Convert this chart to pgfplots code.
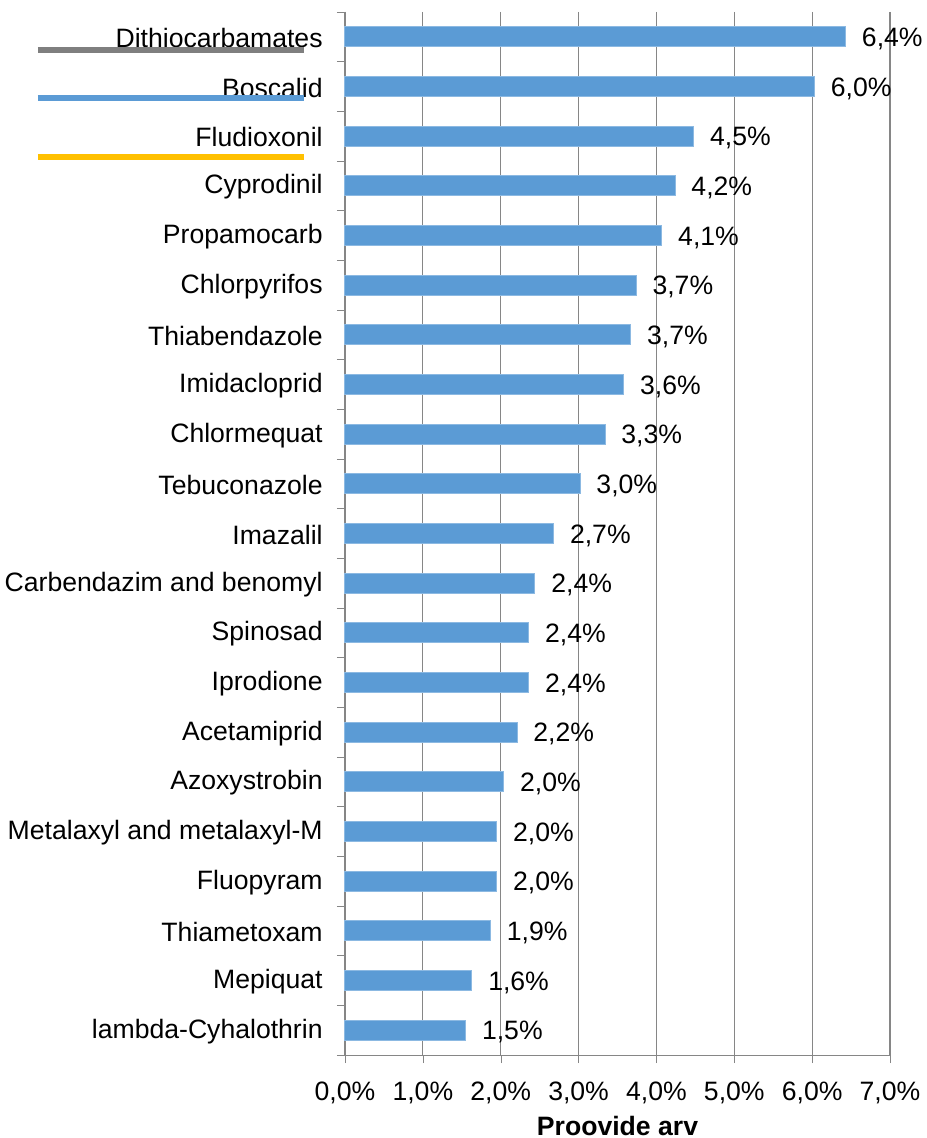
\documentclass[border=0pt]{standalone}
\usepackage{pgfplots}
\pgfplotsset{compat=1.18}
\usepackage{fontspec}
\setmainfont{Liberation Sans}
\definecolor{barblue}{HTML}{5B9BD5}
\definecolor{gridgray}{HTML}{868686}
\definecolor{lgray}{HTML}{7F7F7F}
\definecolor{lgold}{HTML}{FFC000}
\begin{document}
\fontsize{13.3}{16}\selectfont
\begin{tikzpicture}
\begin{axis}[
  scale only axis,
  width=272.5pt, height=521.5pt,
  at={(0,0)}, anchor=south west,
  xbar, bar width=10pt,
  xmin=0, xmax=7,
  ymin=-0.5, ymax=20.5,
  y dir=reverse,
  axis x line=bottom, axis y line=left,
  axis line style={-, gridgray},
  tick align=outside,
  major tick length=4pt,
  minor tick length=4pt,
  xtick={0,1,2,3,4,5,6,7},
  xticklabels={{0,0\%},{1,0\%},{2,0\%},{3,0\%},{4,0\%},{5,0\%},{6,0\%},{7,0\%}},
  x tick style={gridgray},
  xticklabel style={inner sep=0pt, yshift=-9.5pt, font=\fontsize{13.3}{16}\selectfont},
  xmajorgrids, grid style={gridgray, line width=0.6pt},
  ytick={0,...,20},
  minor ytick={-0.5,0.5,...,20.5},
  y tick style={gridgray},
  major y tick style={draw=none},
  yticklabels={{Dithiocarbamates},{Boscalid},{Fludioxonil},{Cyprodinil},{Propamocarb},{Chlorpyrifos},{Thiabendazole},{Imidacloprid},{Chlormequat},{Tebuconazole},{Imazalil},{Carbendazim and benomyl},{Spinosad},{Iprodione},{Acetamiprid},{Azoxystrobin},{Metalaxyl and metalaxyl-M},{Fluopyram},{Thiametoxam},{Mepiquat},{lambda-Cyhalothrin}},
  yticklabel style={inner sep=0pt, anchor=east, xshift=-7pt, yshift=-0.5pt, font=\fontsize{13.3}{16}\selectfont},
  xlabel={\textbf{Proovide arv}},
  xlabel style={font=\fontsize{13.3}{16}\selectfont, yshift=-1.5pt},
  point meta=explicit symbolic,
  nodes near coords,
  nodes near coords style={font=\fontsize{13.3}{16}\selectfont, anchor=west, xshift=3.5pt, yshift=-1pt},
  clip=false,
]
\addplot[fill=barblue, draw=barblue!70!white, line width=0.5pt] coordinates {
(6.43,0) [6,4\%]
(6.03,1) [6,0\%]
(4.48,2) [4,5\%]
(4.24,3) [4,2\%]
(4.07,4) [4,1\%]
(3.74,5) [3,7\%]
(3.67,6) [3,7\%]
(3.58,7) [3,6\%]
(3.34,8) [3,3\%]
(3.02,9) [3,0\%]
(2.68,10) [2,7\%]
(2.44,11) [2,4\%]
(2.36,12) [2,4\%]
(2.36,13) [2,4\%]
(2.21,14) [2,2\%]
(2.04,15) [2,0\%]
(1.95,16) [2,0\%]
(1.95,17) [2,0\%]
(1.87,18) [1,9\%]
(1.63,19) [1,6\%]
(1.55,20) [1,5\%]
};
\end{axis}
\draw[lgray, line width=3pt] (-153.5pt,502.6pt) -- (-20.5pt,502.6pt);
\draw[barblue, line width=3pt] (-153.5pt,478.5pt) -- (-20.5pt,478.5pt);
\draw[lgold, line width=3pt] (-153.5pt,449pt) -- (-20.5pt,449pt);
\pgfresetboundingbox
\useasboundingbox (-172.5pt,-41.5pt) rectangle (290.5pt,527.5pt);
\end{tikzpicture}
\end{document}
